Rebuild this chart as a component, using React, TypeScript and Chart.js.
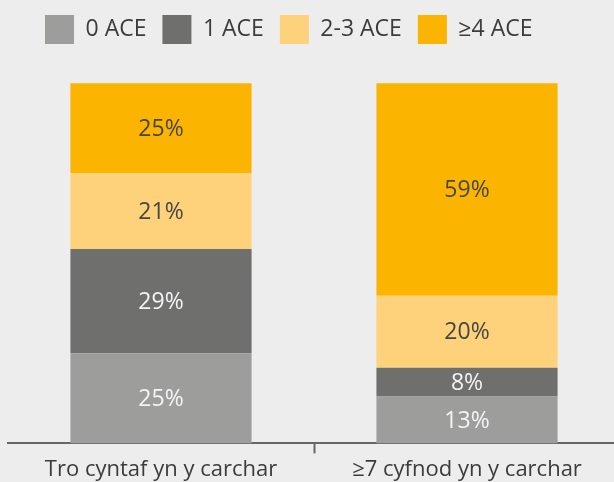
import React, { useEffect, useRef } from "react";
import { Chart, registerables } from "chart.js";

Chart.register(...registerables);

const categories = ["Tro cyntaf yn y carchar", "≥7 cyfnod yn y carchar"];
const seriesNames = ["0 ACE", "1 ACE", "2-3 ACE", "≥4 ACE"];
const ace0 = [25, 13];
const ace1 = [29, 8];
const ace23 = [21, 20];
const ace4 = [25, 59];
const seriesColors = ["#9d9d9c", "#6f6f6e", "#fed27b", "#fbb400"];
const labelColors = ["#f4f4f4", "#f4f4f4", "#464646", "#464646"];

const FONT = "'Open Sans', 'Noto Sans', sans-serif";

const valueLabels = {
  id: "valueLabels",
  afterDatasetsDraw(chart: any) {
    const ctx = chart.ctx;
    ctx.save();
    ctx.font = `23px ${FONT}`;
    ctx.textAlign = "center";
    ctx.textBaseline = "middle";
    chart.data.datasets.forEach((ds: any, di: number) => {
      const meta = chart.getDatasetMeta(di);
      meta.data.forEach((el: any, i: number) => {
        const { x, y, base } = el.getProps(["x", "y", "base"], true);
        ctx.fillStyle = labelColors[di];
        ctx.fillText(`${ds.data[i]}%`, x, (y + base) / 2 + 1);
      });
    });
    ctx.restore();
  },
};

const legendShift = {
  id: "legendShift",
  afterLayout(chart: any) {
    if (chart.legend) chart.legend.left += 21;
  },
};

export default function App() {
  const ref = useRef<HTMLCanvasElement>(null);
  useEffect(() => {
    const seriesData = [ace0, ace1, ace23, ace4];
    const chart = new Chart(ref.current!, {
      type: "bar",
      data: {
        labels: categories,
        datasets: seriesNames.map((name, i) => ({
          label: name,
          data: seriesData[i],
          backgroundColor: seriesColors[i],
          borderWidth: 0,
          barPercentage: 0.592,
          categoryPercentage: 1,
        })),
      },
      options: {
        animation: false,
        responsive: false,
        maintainAspectRatio: false,
        layout: { padding: { left: 8, right: 8, top: -1, bottom: -5 } },
        plugins: {
          legend: {
            position: "top",
            align: "start",
            labels: {
              boxWidth: 29,
              boxHeight: 29,
              padding: 16,
              color: "#3c3c3c",
              font: { family: FONT, size: 23 },
            },
          },
          tooltip: { enabled: false },
        },
        scales: {
          x: {
            stacked: true,
            border: { display: true, color: "#666666", width: 2 },
            grid: {
              offset: true,
              drawOnChartArea: false,
              drawTicks: true,
              tickLength: 10,
              tickWidth: 2,
              tickColor: (c: any) => (c.index === 1 ? "#666666" : "rgba(0,0,0,0)"),
              color: "rgba(0,0,0,0)",
            },
            ticks: {
              color: "#3c3c3c",
              padding: 3.6,
              font: { family: FONT, size: 22 },
              maxRotation: 0,
            },
          },
          y: {
            stacked: true,
            display: false,
            min: 0,
            max: 108.1,
          },
        },
      },
      plugins: [valueLabels, legendShift],
    });
    return () => chart.destroy();
  }, []);

  return (
    <div
      style={{
        position: "fixed",
        left: 0,
        top: 0,
        width: 614,
        height: 482,
        overflow: "hidden",
        background: "#ededed",
      }}
    >
      <canvas ref={ref} width={628} height={482} style={{ display: "block" }} />
    </div>
  );
}
